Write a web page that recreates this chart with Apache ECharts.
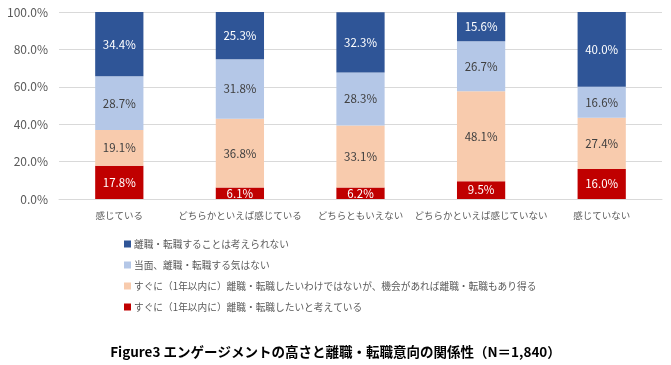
<!DOCTYPE html>
<html><head><meta charset="utf-8">
<script src="https://cdn.jsdelivr.net/npm/echarts@6/dist/echarts.min.js"></script>
<style>html,body{margin:0;padding:0;background:#fff}#c{width:671px;height:365px}</style>
</head><body><div id="c"></div>
<script>
const categories = ['感じている','どちらかといえば感じている','どちらともいえない','どちらかといえば感じていない','感じていない'];
const seriesNames = ['すぐに（1年以内に）離職・転職したいと考えている','すぐに（1年以内に）離職・転職したいわけではないが、機会があれば離職・転職もあり得る','当面、離職・転職する気はない','離職・転職することは考えられない'];
const sRed = [17.8, 6.1, 6.2, 9.5, 16.0];
const sPeach = [19.1, 36.8, 33.1, 48.1, 27.4];
const sLight = [28.7, 31.8, 28.3, 26.7, 16.6];
const sDark = [34.4, 25.3, 32.3, 15.6, 40.0];
const colors = ['#C00000','#F8CBAD','#B4C7E7','#2F5597'];
const labelColors = ['#ffffff','#404040','#404040','#ffffff'];
const dataSets = [sRed, sPeach, sLight, sDark];
const font = '"Noto Sans CJK JP", "Noto Sans", sans-serif';
const chart = echarts.init(document.getElementById('c'));
chart.setOption({
  animation:false,
  textStyle:{fontFamily:font},
  title:{text:'Figure3 エンゲージメントの高さと離職・転職意向の関係性（N＝1,840）',left:'center',top:340,
    textStyle:{fontSize:13.5,fontWeight:'bold',color:'#000',fontFamily:font}},
  grid:{left:59,right:9,top:12,bottom:166,containLabel:false},
  legend:{orient:'vertical',left:119,top:232,itemWidth:7,itemHeight:7,itemGap:7,icon:'rect',
    data:[seriesNames[3],seriesNames[2],seriesNames[1],seriesNames[0]],
    textStyle:{fontSize:9.7,color:'#595959',fontFamily:font,lineHeight:14,padding:[0,0,0,-2]}},
  xAxis:{type:'category',data:categories,axisTick:{show:false},
    axisLine:{lineStyle:{color:'#d9d9d9'}},
    axisLabel:{color:'#595959',fontSize:9.5,margin:12,interval:0,fontFamily:font}},
  yAxis:{type:'value',min:0,max:100,interval:20,
    axisLabel:{formatter:v=>v.toFixed(1)+'%',color:'#595959',fontSize:12,margin:11,fontFamily:font},
    splitLine:{lineStyle:{color:'#d9d9d9'}},axisLine:{show:false}},
  series: dataSets.map((d,i)=>({
    name:seriesNames[i],type:'bar',stack:'all',data:d,barWidth:'40%',
    itemStyle:{color:colors[i]},
    label:{show:true,position:'inside',formatter:p=>p.value.toFixed(1)+'%',color:labelColors[i],fontSize:11.5,fontFamily:font}
  }))
});
</script></body></html>
